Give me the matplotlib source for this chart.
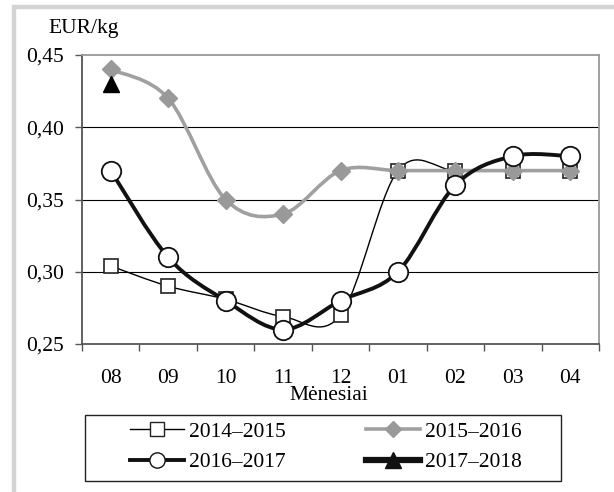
import numpy as np
import matplotlib.pyplot as plt
from matplotlib.path import Path
from matplotlib.patches import PathPatch, Rectangle
from matplotlib.lines import Line2D
from matplotlib.ticker import FuncFormatter

plt.rcParams['font.family'] = ['Liberation Serif', 'DejaVu Serif']

# Data
months = ['08', '09', '10', '11', '12', '01', '02', '03', '04']
s1415 = [0.304, 0.29, 0.281, 0.269, 0.27, 0.37, 0.37, 0.37, 0.37]
s1516 = [0.44, 0.42, 0.35, 0.34, 0.37, 0.37, 0.37, 0.37, 0.37]
s1617 = [0.37, 0.31, 0.28, 0.26, 0.28, 0.30, 0.36, 0.38, 0.38]
s1718 = [0.43]
labels = ['2014\u20132015', '2015\u20132016', '2016\u20132017', '2017\u20132018']


def smooth_path(xs, ys):
    # Excel-like smoothed line: cubic bezier with catmull-rom control points
    pts = np.column_stack([xs, ys]).astype(float)
    n = len(pts)
    verts = [pts[0]]
    codes = [Path.MOVETO]
    for i in range(n - 1):
        p0 = pts[i - 1] if i > 0 else pts[i]
        p1 = pts[i]
        p2 = pts[i + 1]
        p3 = pts[i + 2] if i + 2 < n else pts[i + 1]
        c1 = p1 + (p2 - p0) / 6
        c2 = p2 - (p3 - p1) / 6
        verts += [c1, c2, p2]
        codes += [Path.CURVE4] * 3
    return Path(verts, codes)


fig = plt.figure(figsize=(6.14, 4.92), dpi=100)
ax = fig.add_axes([82 / 614, 1 - 344 / 492, 517 / 614, 289 / 492])

x = np.arange(len(months))
fs = 15.5

# grid
for g in [0.30, 0.35, 0.40]:
    ax.axhline(g, color='black', lw=0.8, zorder=1)

ax.add_patch(PathPatch(smooth_path(x, s1415), fill=False, color='black', lw=1.0, zorder=3))
ax.plot(x, s1415, ls='none', marker='s', ms=10, mfc='white', mec='#222222', mew=1.2, zorder=4)

ax.add_patch(PathPatch(smooth_path(x, s1516), fill=False, color='#a0a0a0', lw=2.6, zorder=5))
ax.plot(x, s1516, ls='none', marker='D', ms=9, mfc='#999999', mec='#999999', zorder=6)

ax.add_patch(PathPatch(smooth_path(x, s1617), fill=False, color='#111111', lw=2.8, zorder=7))
ax.plot(x, s1617, ls='none', marker='o', ms=14, mfc='white', mec='#111111', mew=1.3, zorder=8)

ax.plot(x[:len(s1718)], s1718, ls='none', marker='^', ms=12, color='black', zorder=9)

ax.set_xlim(-0.5, len(months) - 0.5)
ax.set_ylim(0.25, 0.45)
ax.set_yticks([0.25, 0.30, 0.35, 0.40, 0.45])
ax.yaxis.set_major_formatter(FuncFormatter(lambda v, p: f'{v:.2f}'.replace('.', ',')))
ax.set_xticks(x)
ax.set_xticklabels(months)
ax.set_xticks(np.arange(-0.5, len(months), 1), minor=True)
ax.tick_params(axis='x', which='major', length=0, pad=18, labelsize=fs)
ax.tick_params(axis='x', which='minor', length=5, width=1, color='#555555', direction='out')
ax.tick_params(axis='y', length=5, width=1, color='#555555', labelsize=fs, pad=8)

for s in ['left', 'bottom']:
    ax.spines[s].set_color('#555555')
    ax.spines[s].set_linewidth(1.3)
for s in ['top', 'right']:
    ax.spines[s].set_color('#999999')
    ax.spines[s].set_linewidth(1.3)

fig.text(48 / 614, 1 - 33 / 492, 'EUR/kg', fontsize=fs, va='baseline', ha='left')
fig.text(329 / 614, 1 - 400 / 492, 'M\u0117nesiai', fontsize=fs, va='baseline', ha='center')

h1415 = Line2D([], [], color='black', lw=1.0, marker='s', ms=10, mfc='white', mec='#222222')
h1516 = Line2D([], [], color='#a0a0a0', lw=2.6, marker='D', ms=8, mfc='#999999', mec='#999999')
h1617 = Line2D([], [], color='#111111', lw=2.8, marker='o', ms=11, mfc='white', mec='#111111')
h1718 = Line2D([], [], color='#111111', lw=4.5, marker='^', ms=11)
leg = fig.legend([h1415, h1617, h1516, h1718],
                 [labels[0], labels[2], labels[1], labels[3]],
                 ncol=2, loc='center',
                 bbox_to_anchor=(326 / 614, 1 - 447 / 492), fontsize=fs,
                 frameon=False, handlelength=2.5, columnspacing=3.7,
                 borderpad=0.0, labelspacing=0.48, handletextpad=0.25)

# legend box
fig.patches.append(Rectangle((85 / 614, 1 - 481 / 492), 476 / 614, 66 / 492,
                             transform=fig.transFigure, fill=False,
                             edgecolor='#222222', lw=1.0))

# outer frame
fig.patches.append(Rectangle((14 / 614, -0.02), 1.1, 1 - 7 / 492 + 0.02,
                             transform=fig.transFigure, fill=False,
                             edgecolor='#d3d3d3', lw=3.2, zorder=0))

fig.savefig('out.png', dpi=100)
